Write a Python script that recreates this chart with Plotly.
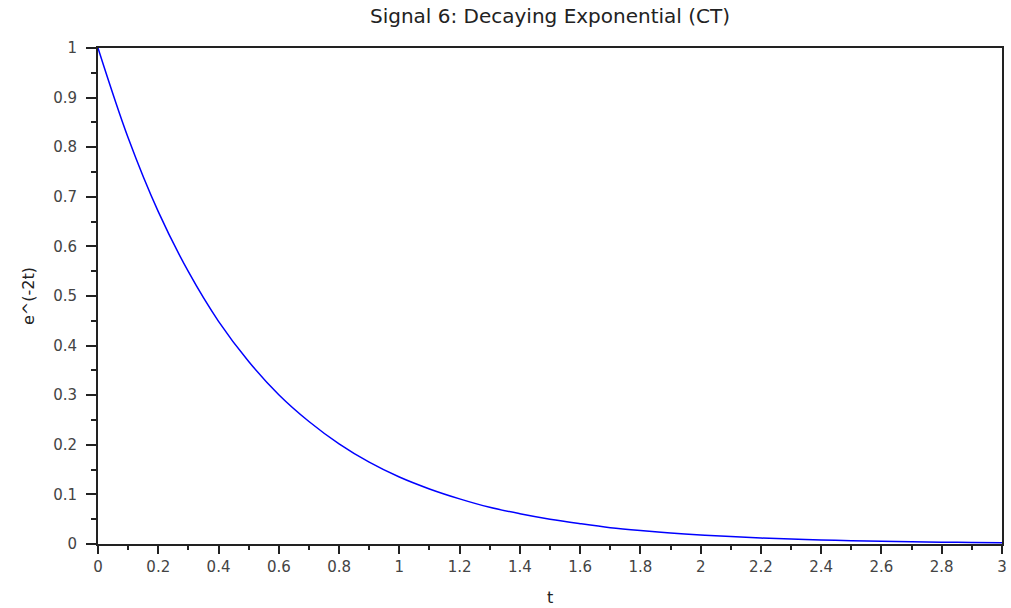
import plotly.graph_objects as go

# Values
t_values = [0.0, 0.1, 0.2, 0.3, 0.4, 0.5, 0.6, 0.7, 0.8, 0.9, 1.0,
            1.1, 1.2, 1.3, 1.4, 1.5, 1.6, 1.7, 1.8, 1.9, 2.0,
            2.1, 2.2, 2.3, 2.4, 2.5, 2.6, 2.7, 2.8, 2.9, 3.0]
y_values = [1.0, 0.819, 0.670, 0.549, 0.449, 0.368, 0.301, 0.247, 0.202, 0.165, 0.135,
            0.111, 0.091, 0.074, 0.061, 0.050, 0.041, 0.033, 0.027, 0.022, 0.018,
            0.015, 0.012, 0.010, 0.0082, 0.0067, 0.0055, 0.0045, 0.0037, 0.0030, 0.0025]
x_tick_vals = [0, 0.2, 0.4, 0.6, 0.8, 1, 1.2, 1.4, 1.6, 1.8, 2, 2.2, 2.4, 2.6, 2.8, 3]
x_tick_text = ["0", "0.2", "0.4", "0.6", "0.8", "1", "1.2", "1.4", "1.6", "1.8",
               "2", "2.2", "2.4", "2.6", "2.8", "3"]
y_tick_vals = [0, 0.1, 0.2, 0.3, 0.4, 0.5, 0.6, 0.7, 0.8, 0.9, 1]
y_tick_text = ["0", "0.1", "0.2", "0.3", "0.4", "0.5", "0.6", "0.7", "0.8", "0.9", "1"]
x_title = "t"
y_title = "e^(-2t)"

FONT = "DejaVu Sans"

fig = go.Figure()
fig.add_trace(go.Scatter(
    x=t_values, y=y_values, mode="lines",
    line=dict(color="#0000ff", width=1.5, shape="spline", smoothing=1.0),
    showlegend=False, hoverinfo="skip"))

fig.update_layout(
    width=1011, height=608,
    margin=dict(l=98, r=9, t=48, b=64),
    paper_bgcolor="white", plot_bgcolor="white",
    title=dict(text="Signal 6: Decaying Exponential (CT)",
               x=(98 + 1002) / 2 / 1011, xanchor="center",
               y=1 - 16 / 608, yanchor="middle",
               font=dict(family=FONT, size=20, color="#222222")),
    font=dict(family=FONT, color="#444444"),
    annotations=[
        dict(text=x_title, xref="paper", yref="paper", x=0.5, y=0,
             xanchor="center", yanchor="middle", yshift=-53, showarrow=False,
             font=dict(family=FONT, size=16, color="#222222")),
        dict(text=y_title, xref="paper", yref="paper", x=0, y=0.5,
             xanchor="center", yanchor="middle", xshift=-70, textangle=-90,
             showarrow=False, font=dict(family=FONT, size=16, color="#222222")),
    ],
)

fig.update_xaxes(
    range=[0, 3], tickmode="array", tickvals=x_tick_vals, ticktext=x_tick_text,
    ticks="outside", ticklen=8, tickwidth=2, tickcolor="#222222",
    showline=True, linecolor="#222222", linewidth=2, mirror=True,
    showgrid=False, zeroline=False, automargin=False,
    tickfont=dict(family=FONT, size=15, color="#444444"),
    minor=dict(tickmode="linear", tick0=0, dtick=0.1, ticks="outside",
               ticklen=4, tickwidth=2, tickcolor="#222222", showgrid=False),
)
fig.update_yaxes(
    range=[0, 1], tickmode="array", tickvals=y_tick_vals, ticktext=y_tick_text,
    ticks="outside", ticklen=10, tickwidth=2, tickcolor="#222222",
    showline=True, linecolor="#222222", linewidth=2, mirror=True,
    showgrid=False, zeroline=False, ticklabelstandoff=6, automargin=False,
    tickfont=dict(family=FONT, size=15, color="#444444"),
    minor=dict(tickmode="linear", tick0=0, dtick=0.05, ticks="outside",
               ticklen=5, tickwidth=2, tickcolor="#222222", showgrid=False),
)

fig.write_html("out.html")
